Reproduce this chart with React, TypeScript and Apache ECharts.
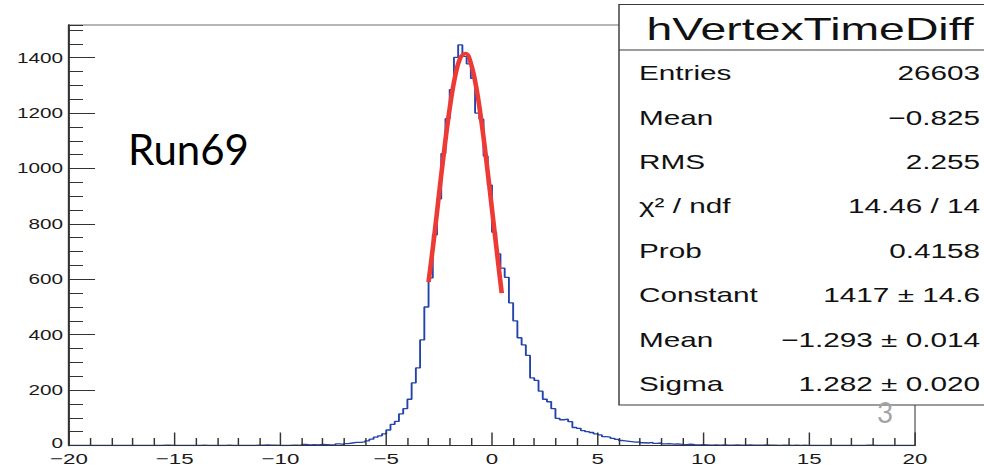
import React, { useEffect, useRef } from "react";
import * as echarts from "echarts";

// ---- data ----
const BIN_START = -20;
const BIN_WIDTH = 0.2;
// bin contents, 10 bins (2 units) per row, starting at -20
const counts: number[] = [
  0, 0, 0, 0, 0, 0, 0, 0, 0, 0, // -20
  0, 0, 0, 0, 0, 0, 0, 0, 0, 0, // -18
  0, 0, 1, 1, 0, 0, 0, 0, 0, 0, // -16
  0, 1, 0, 0, 0, 0, 0, 1, 0, 0, // -14
  0, 0, 0, 0, 1, 1, 2, 1, 1, 0, // -12
  0, 0, 1, 1, 0, 4, 2, 3, 2, 4, // -10
  3, 2, 3, 6, 4, 7, 9, 11, 11, 13, // -8
  17, 23, 30, 35, 42, 56, 76, 87, 114, 133, // -6
  167, 226, 280, 381, 500, 605, 760, 890, 1054, 1180, // -4
  1285, 1401, 1446, 1405, 1378, 1325, 1200, 1178, 1045, 940, // -2
  770, 692, 640, 607, 515, 450, 389, 363, 325, 244, // 0
  235, 196, 167, 158, 133, 98, 93, 95, 86, 65, // 2
  62, 54, 50, 47, 42, 38, 32, 30, 26, 22, // 4
  18, 16, 14, 12, 13, 10, 9, 11, 8, 9, // 6
  6, 7, 5, 6, 4, 3, 5, 3, 2, 3, // 8
  2, 1, 2, 1, 2, 1, 1, 2, 1, 1, // 10
  2, 1, 1, 1, 2, 1, 1, 0, 1, 1, // 12
  0, 1, 0, 1, 0, 0, 0, 0, 0, 0, // 14
  0, 0, 0, 0, 0, 0, 0, 0, 1, 1, // 16
  0, 0, 0, 0, 0, 0, 0, 0, 0, 0, // 18
];

// red fit curve
const fitX = [-3.0, -2.75, -2.5, -2.25, -2.0, -1.75, -1.5, -1.25, -1.0, -0.75, -0.5, -0.25, 0.0, 0.25, 0.46];
const fitY = [590, 743, 910, 1072, 1217, 1330, 1399, 1416, 1380, 1295, 1170, 1018, 852, 687, 550];

const X_MIN = -20;
const X_MAX = 20;
const X_STEP = 5;
const Y_MIN = 0;
const Y_MAX = 1518;
const Y_STEP = 200;
const Y_MINOR_STEP = 50;

const statsTitle = "hVertexTimeDiff";
const statsLabels = ["Entries", "Mean", "RMS", "χ² / ndf", "Prob", "Constant", "Mean", "Sigma"];
const statsValues = ["26603", "−0.825", "2.255", "14.46 / 14", "0.4158", "1417 ± 14.6", "−1.293 ± 0.014", "1.282 ± 0.020"];
const runLabel = "Run69";
const pageNumber = "3";

// ---- layout (the ROOT picture is stretched horizontally) ----
const W = 984;
const H = 466;
const CW = 679;
const S = W / CW;
const px = (x: number) => x / S; // picture x -> chart x

const FONT = "Liberation Sans";
const DARK = "#333";

export default function App() {
  const ref = useRef<HTMLDivElement>(null);

  useEffect(() => {
    if (!ref.current) return;
    const chart = echarts.init(ref.current, null, { renderer: "svg" });

    const histData: number[][] = counts.map((c, i) => [BIN_START + i * BIN_WIDTH, c]);
    histData.push([BIN_START + counts.length * BIN_WIDTH, counts[counts.length - 1]]);
    const fitData = fitX.map((x, i) => [x, fitY[i]]);

    const rowY0 = 73;
    const rowDY = 44.4;

    const graphics: any[] = [
      {
        type: "rect",
        z: 100,
        shape: { x: px(619), y: 4.5, width: px(400), height: 400.5 },
        style: { fill: "#fff", stroke: "#3a3a3a", lineWidth: 1 },
      },
      {
        type: "line",
        z: 101,
        shape: { x1: px(619), y1: 50, x2: px(1000), y2: 50 },
        style: { stroke: "#3a3a3a", lineWidth: 1 },
      },
      {
        type: "text",
        z: 101,
        x: px(810),
        y: 29,
        style: {
          text: statsTitle,
          fontFamily: FONT,
          fontSize: 32,
          fill: "#111",
          textAlign: "center",
          textVerticalAlign: "middle",
        },
      },
    ];
    statsLabels.forEach((t, i) => {
      graphics.push({
        type: "text",
        z: 101,
        x: px(639),
        y: rowY0 + i * rowDY,
        style: { text: t, fontFamily: FONT, fontSize: 20.5, fill: "#111", textAlign: "left", textVerticalAlign: "middle" },
      });
    });
    statsValues.forEach((t, i) => {
      graphics.push({
        type: "text",
        z: 101,
        x: px(980),
        y: rowY0 + i * rowDY,
        style: { text: t, fontFamily: FONT, fontSize: 20.5, fill: "#111", textAlign: "right", textVerticalAlign: "middle" },
      });
    });
    graphics.push({
      type: "text",
      z: 101,
      x: px(128),
      y: 149,
      scaleX: 1 / S,
      style: { text: runLabel, fontFamily: "Lato", fontSize: 42, fill: "#000", textAlign: "left", textVerticalAlign: "middle" },
    });
    graphics.push({
      type: "text",
      z: 101,
      x: px(885),
      y: 412,
      scaleX: 1 / S,
      style: { text: pageNumber, fontFamily: "Lato", fontSize: 28, fill: "#a3a3a3", textAlign: "center", textVerticalAlign: "middle" },
    });

    const option: any = {
      animation: false,
      backgroundColor: "#fff",
      grid: {
        left: px(69),
        top: 25,
        width: px(915) - px(69),
        height: 425,
        show: true,
        borderColor: "#6e6e6e",
        borderWidth: 1,
        backgroundColor: "transparent",
        containLabel: false,
      },
      xAxis: {
        type: "value",
        min: X_MIN,
        max: X_MAX,
        interval: X_STEP,
        z: 3,
        axisLine: { show: true, onZero: false, lineStyle: { color: DARK, width: 1 } },
        axisTick: { show: true, inside: true, length: 13, lineStyle: { color: DARK, width: 1 } },
        minorTick: { show: true, splitNumber: 5, length: 7.5, lineStyle: { color: DARK, width: 1 } },
        axisLabel: {
          show: true,
          margin: 5.5,
          fontSize: 15.4,
          fontFamily: FONT,
          color: "#1a1a1a",
          showMinLabel: true,
          showMaxLabel: true,
          formatter: (v: number) => String(v).replace("-", "−"),
        },
        splitLine: { show: false },
      },
      yAxis: [
        {
          type: "value",
          min: Y_MIN,
          max: Y_MAX,
          interval: Y_STEP,
          position: "left",
          z: 3,
          axisLine: { show: true, onZero: false, lineStyle: { color: DARK, width: 1.4 } },
          axisTick: { show: true, inside: true, length: px(26), lineStyle: { color: DARK, width: 1 } },
          axisLabel: {
            show: true,
            margin: px(6),
            fontSize: 14.3,
            fontFamily: FONT,
            color: "#1a1a1a",
            showMinLabel: true,
            showMaxLabel: false,
            formatter: (v: number) => (v === 0 ? "{zero|0}" : String(v)),
            rich: {
              zero: {
                fontSize: 14.3,
                fontFamily: FONT,
                color: "#1a1a1a",
                padding: [0, 0, 5, 0],
              },
            },
          },
          splitLine: { show: false },
        },
        {
          type: "value",
          min: Y_MIN,
          max: Y_MAX,
          interval: Y_MINOR_STEP,
          position: "left",
          z: 3,
          axisLine: { show: false, onZero: false },
          axisTick: { show: true, inside: true, length: px(14), lineStyle: { color: DARK, width: 1 } },
          axisLabel: { show: false },
          splitLine: { show: false },
        },
      ],
      series: [
        {
          type: "line",
          step: "end",
          data: histData,
          yAxisIndex: 0,
          symbol: "none",
          z: 2,
          lineStyle: { color: "#2243ab", width: 1.3 },
        },
        {
          type: "line",
          data: fitData,
          yAxisIndex: 0,
          smooth: 0.4,
          symbol: "none",
          z: 4,
          lineStyle: { color: "#ee3a35", width: 3.2 },
        },
      ],
      graphic: { elements: graphics },
    };

    chart.setOption(option);
    return () => chart.dispose();
  }, []);

  return (
    <div
      style={{
        position: "fixed",
        left: 0,
        top: 0,
        width: W,
        height: H,
        overflow: "hidden",
        background: "#fff",
      }}
    >
      <div
        ref={ref}
        style={{ width: CW, height: H, transform: `scaleX(${S})`, transformOrigin: "0 0" }}
      />
    </div>
  );
}
